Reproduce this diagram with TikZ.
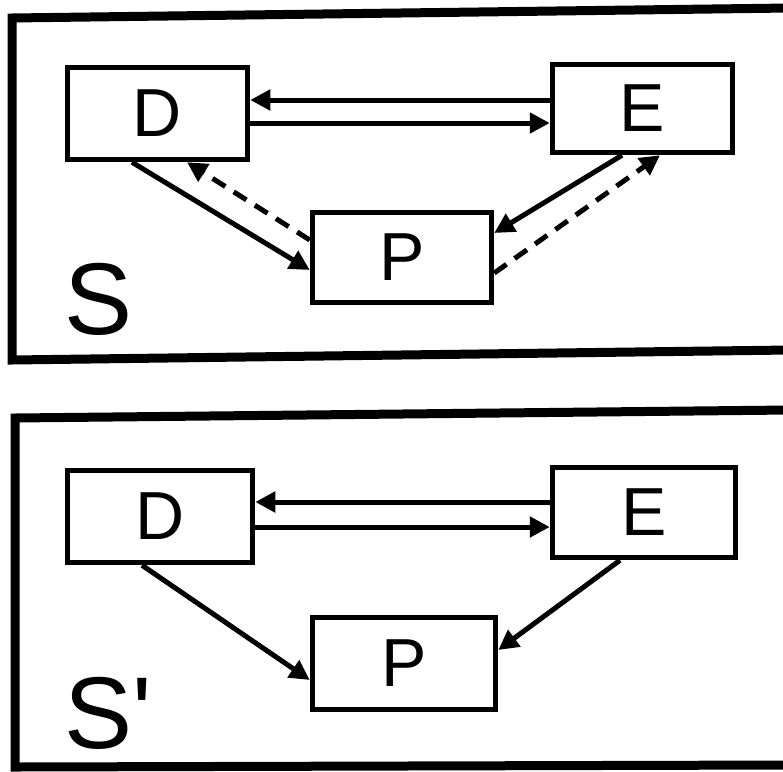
\documentclass[tikz,border=0pt]{standalone}
\usepackage{fontspec}
\setmainfont{Liberation Sans}
\usetikzlibrary{arrows.meta}
\begin{document}
\begin{tikzpicture}[x=1pt,y=-1pt,
  box/.style={draw,line width=5.5pt,inner sep=0pt,font=\fontsize{68}{68}\selectfont},
  arr/.style={line width=5pt,-{Triangle[length=20pt,width=20pt]}},
  dsh/.style={arr,dash pattern=on 15pt off 10pt},
  frame/.style={line width=9pt,line join=miter},
  lab/.style={inner sep=0pt,anchor=base west}]
\useasboundingbox (0,0) rectangle (783,771);
% frames
\draw[frame] (790,8) -- (12,18) -- (12,360) -- (790,350);
\draw[frame] (790,410) -- (15,418) -- (15,767) -- (790,765);
% top panel
\node[box,minimum width=180pt,minimum height=92pt] (tD) at (157.5,113.5) {D};
\node[box,minimum width=180pt,minimum height=88pt] (tE) at (642.5,108.5) {E};
\node[box,minimum width=179pt,minimum height=90pt] (tP) at (402,257.5) {P};
\node[lab,font=\fontsize{102}{102}\selectfont] (tS) at (64,334) {S};
\draw[arr] (tE.west |- 0,100) -- (tD.east |- 0,100);
\draw[arr] (tD.east |- 0,123) -- (tE.west |- 0,123);
\draw[arr] (tD.south -| 132,0) -- (tP.west |- 0,270);
\draw[dsh] (tP.west |- 0,240) -- (tD.south -| 187,0);
\draw[arr] (tE.south -| 622,0) -- (tP.east |- 0,233);
\draw[dsh] (tP.east |- 0,273) -- (tE.south -| 660,0);
% bottom panel
\node[box,minimum width=185pt,minimum height=92pt] (bD) at (160,516.5) {D};
\node[box,minimum width=183pt,minimum height=90pt] (bE) at (644,512.5) {E};
\node[box,minimum width=183pt,minimum height=92pt] (bP) at (404,663.5) {P};
\node[lab,font=\fontsize{102}{102}\selectfont] (bS) at (64,748) {S\textquotesingle};
\draw[arr] (bE.west |- 0,502) -- (bD.east |- 0,502);
\draw[arr] (bD.east |- 0,527) -- (bE.west |- 0,527);
\draw[arr] (bD.south -| 142,0) -- (bP.west |- 0,680);
\draw[arr] (bE.south -| 620,0) -- (bP.east |- 0,650);
\end{tikzpicture}
\end{document}
